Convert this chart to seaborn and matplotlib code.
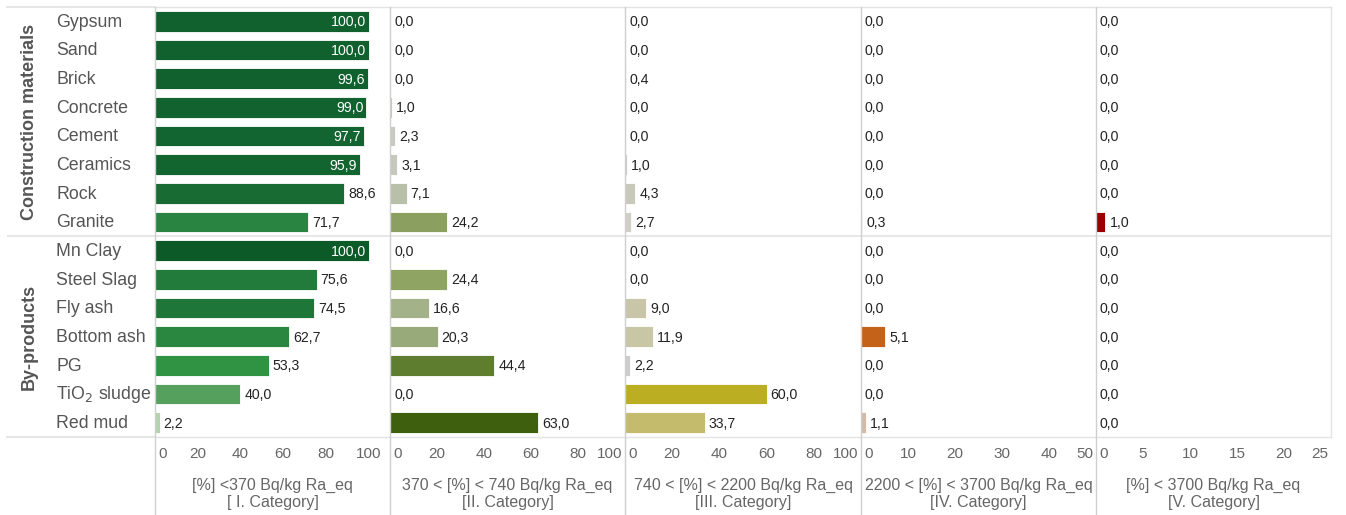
import matplotlib
matplotlib.use("Agg")
import matplotlib.pyplot as plt
from matplotlib.transforms import ScaledTranslation
import seaborn as sns
import pandas as pd

# ---------------- data ----------------
materials = ["Gypsum", "Sand", "Brick", "Concrete", "Cement", "Ceramics", "Rock", "Granite",
             "Mn Clay", "Steel Slag", "Fly ash", "Bottom ash", "PG", "TiO$_2$ sludge", "Red mud"]
groups = ["Construction materials"] * 8 + ["By-products"] * 7
group_names = ["Construction materials", "By-products"]

cat1 = [100.0, 100.0, 99.6, 99.0, 97.7, 95.9, 88.6, 71.7, 100.0, 75.6, 74.5, 62.7, 53.3, 40.0, 2.2]
cat2 = [0.0, 0.0, 0.0, 1.0, 2.3, 3.1, 7.1, 24.2, 0.0, 24.4, 16.6, 20.3, 44.4, 0.0, 63.0]
cat3 = [0.0, 0.0, 0.4, 0.0, 0.0, 1.0, 4.3, 2.7, 0.0, 0.0, 9.0, 11.9, 2.2, 60.0, 33.7]
cat4 = [0.0, 0.0, 0.0, 0.0, 0.0, 0.0, 0.0, 0.3, 0.0, 0.0, 0.0, 5.1, 0.0, 0.0, 1.1]
cat5 = [0.0, 0.0, 0.0, 0.0, 0.0, 0.0, 0.0, 1.0, 0.0, 0.0, 0.0, 0.0, 0.0, 0.0, 0.0]

titles = ["[%] <370 Bq/kg Ra_eq\n[ I. Category]",
          "370 < [%] < 740 Bq/kg Ra_eq\n[II. Category]",
          "740 < [%] < 2200 Bq/kg Ra_eq\n[III. Category]",
          "2200 < [%] < 3700 Bq/kg Ra_eq\n[IV. Category]",
          "[%] < 3700 Bq/kg Ra_eq\n[V. Category]"]
xmax = [110, 100, 100, 50, 25]
xticks = [[0, 20, 40, 60, 80, 100], [0, 20, 40, 60, 80, 100], [0, 20, 40, 60, 80, 100],
          [0, 10, 20, 30, 40, 50], [0, 5, 10, 15, 20, 25]]

# ---------------- colours (style) ----------------
col1 = ["#10612e", "#10612e", "#10612e", "#11622f", "#126430", "#136530", "#176b33", "#2a8441",
        "#0c5a28", "#237b3b", "#1f7639", "#2a8740", "#309344", "#56a05e", "#b5d2ae"]
col2 = ["#cccccc", "#cccccc", "#cccccc", "#c8c9c0", "#c8c9c0", "#c6c8bd", "#b9bfa8", "#8ba060",
        "#cccccc", "#8fa363", "#a4b289", "#99aa7a", "#5e7d2e", "#cccccc", "#3e5f0e"]
col3 = ["#cccccc", "#cccccc", "#cfcfcf", "#cccccc", "#cccccc", "#cccccc", "#c9c9bb", "#cfcfc6",
        "#cccccc", "#cccccc", "#c8c5a8", "#c8c6a4", "#cccccc", "#bcae22", "#c5bb6c"]
col4 = ["#cccccc"] * 7 + ["#cccccc"] + ["#cccccc"] * 3 + ["#c5621a", "#cccccc", "#cccccc", "#d3bba9"]
col5 = ["#cccccc"] * 7 + ["#990000"] + ["#cccccc"] * 7

panels = [cat1, cat2, cat3, cat4, cat5]
colours = [col1, col2, col3, col4, col5]

# ---------------- figure ----------------
sns.set_theme(style="white")
plt.rcParams["font.family"] = ["Liberation Sans", "DejaVu Sans"]

W, H = 1346, 515
fig = plt.figure(figsize=(W / 100, H / 100), dpi=100)

def rect(x0, x1, y0, y1):
    return [x0 / W, 1 - y1 / H, (x1 - x0) / W, (y1 - y0) / H]

TOP, BOT = 7, 437
edges = [155, 390, 625, 861, 1096, 1331]
line_c = "#e3e3e3"
axis_c = "#cfcfcf"
bottom_frac = -(H - BOT) / (BOT - TOP)

# label area
axl = fig.add_axes(rect(7, 155, TOP, BOT))
axl.set_xlim(0, 1)
axl.set_ylim(len(materials) - 0.5, -0.5)
axl.set_xticks([])
axl.set_yticks([])
for s in ["left", "right"]:
    axl.spines[s].set_visible(False)
for s in ["top", "bottom"]:
    axl.spines[s].set_color(line_c)
axl.axhline(7.5, color=line_c, lw=1.2)
for i, m in enumerate(materials):
    axl.text(0.332, i + 0.03, m, ha="left", va="center", fontsize=12.8, color="#555555")
for g in group_names:
    idx = [i for i, gg in enumerate(groups) if gg == g]
    axl.text(0.15, (idx[0] + idx[-1]) / 2, g, rotation=90, ha="center", va="center",
             fontsize=13, fontweight="bold", color="#555555")

for k, (vals, cols) in enumerate(zip(panels, colours)):
    ax = fig.add_axes(rect(edges[k], edges[k + 1], TOP, BOT))
    df = pd.DataFrame({"material": materials, "value": vals})
    pal = dict(zip(materials, cols))
    sns.barplot(data=df, x="value", y="material", hue="material", palette=pal,
                order=materials, hue_order=materials, dodge=False, legend=False,
                width=0.73, saturation=1, edgecolor="white", linewidth=0.6,
                orient="h", ax=ax)
    ax.set_xlim(0, xmax[k])
    ax.set_ylim(len(materials) - 0.5, -0.5)
    ax.set_yticks([])
    ax.set_ylabel("")
    ax.set_xlabel("")
    ax.set_xticks(xticks[k])
    ax.set_xticklabels([str(t) for t in xticks[k]])
    ax.tick_params(axis="x", direction="out", length=4, width=0.8, color="#d9d9d9",
                   labelsize=11, labelcolor="#666666", pad=3)
    for s in ["top", "bottom", "right"]:
        ax.spines[s].set_color(line_c)
        ax.spines[s].set_linewidth(1.0)
    ax.spines["right"].set_visible(k == 4)
    ax.spines["left"].set_visible(False)
    ax.axvline(0, ymin=bottom_frac, ymax=1, color=axis_c, lw=1.0, clip_on=False, zorder=3)
    ax.axhline(7.5, color=line_c, lw=1.2, zorder=0)

    # tick label alignment at edges
    ticks = ax.xaxis.get_major_ticks()
    ticks[0].label1.set_horizontalalignment("left")
    ticks[0].label1.set_transform(ticks[0].label1.get_transform()
                                  + ScaledTranslation(3 / 100, 0, fig.dpi_scale_trans))
    if xticks[k][-1] == xmax[k]:
        ticks[-1].label1.set_horizontalalignment("right")
        ticks[-1].label1.set_transform(ticks[-1].label1.get_transform()
                                       + ScaledTranslation(-3 / 100, 0, fig.dpi_scale_trans))

    # value labels
    for i, v in enumerate(vals):
        txt = f"{v:.1f}".replace(".", ",")
        if k == 0 and v >= 95:
            ax.annotate(txt, xy=(v, i + 0.03), xytext=(-3, 0), textcoords="offset pixels",
                        ha="right", va="center", fontsize=10.2, color="white")
        else:
            ax.annotate(txt, xy=(v, i + 0.03), xytext=(4, 0), textcoords="offset pixels",
                        ha="left", va="center", fontsize=10.2, color="#222222")

    ax.text(0.5, -(478 - BOT) / (BOT - TOP), titles[k], transform=ax.transAxes,
            ha="center", va="top", fontsize=11.5, color="#666666", linespacing=1.12)

fig.savefig("out.png", dpi=100)
